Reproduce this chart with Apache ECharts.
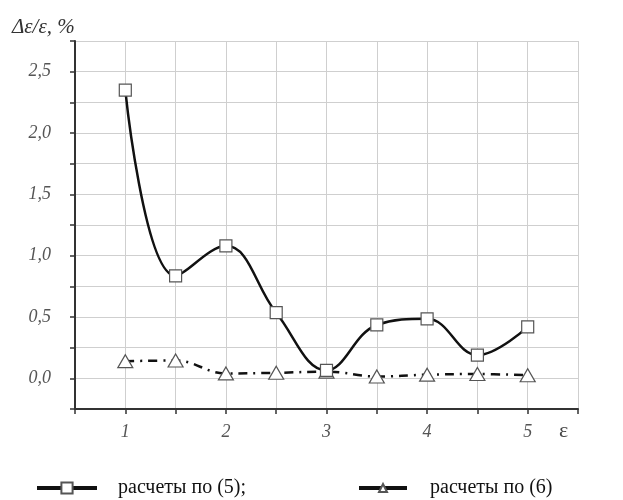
<!DOCTYPE html>
<html><head><meta charset="utf-8">
<script src="https://cdn.jsdelivr.net/npm/echarts@6/dist/echarts.min.js"></script>
<style>html,body{margin:0;padding:0;background:#fff}#c{width:623px;height:500px}</style>
</head><body><div id="c"></div>
<script>
const xValues = [1, 1.5, 2, 2.5, 3, 3.5, 4, 4.5, 5];
const series5 = [2.35, 0.835, 1.08, 0.535, 0.065, 0.435, 0.485, 0.19, 0.42];
const series6 = [0.14, 0.145, 0.04, 0.045, 0.055, 0.015, 0.03, 0.035, 0.025];
const seriesNames = ['расчеты по (5);', 'расчеты по (6)'];
const yTitle = 'Δε/ε, %';
const xTitle = 'ε';

const chart = echarts.init(document.getElementById('c'), null, {renderer: 'canvas'});
const pairs = (ys) => xValues.map((x, i) => [x, ys[i]]);
const labelFont = {fontFamily: 'Liberation Serif', fontStyle: 'italic', fontSize: 18, color: '#555'};
chart.setOption({
  animation: false,
  backgroundColor: '#fff',
  grid: {left: 75, right: 45, top: 41, bottom: 91},
  xAxis: {
    type: 'value', min: 0.5, max: 5.5, interval: 0.5,
    axisLine: {show: true, onZero: false, lineStyle: {color: '#333', width: 2}},
    axisTick: {show: true, inside: false, length: 5, lineStyle: {color: '#333', width: 1.5}},
    axisLabel: Object.assign({margin: 14, formatter: v => (Math.abs(v - Math.round(v)) < 1e-9 ? String(Math.round(v)) : '')}, labelFont),
    splitLine: {show: true, lineStyle: {color: '#cfcfcf', width: 1}}
  },
  yAxis: {
    type: 'value', min: -0.25, max: 2.75, interval: 0.25,
    axisLine: {show: true, onZero: false, lineStyle: {color: '#333', width: 2}},
    axisTick: {show: true, inside: false, length: 5, lineStyle: {color: '#333', width: 1.5}},
    axisLabel: Object.assign({margin: 24, formatter: v => {
      const r = Math.round(v * 2) / 2;
      if (Math.abs(v - r) > 1e-9 || v < 0) return '';
      return r.toFixed(1).replace('.', ',');
    }}, labelFont),
    splitLine: {show: true, lineStyle: {color: '#cfcfcf', width: 1}}
  },
  legend: [{
    left: 30, top: 473, itemWidth: 60, itemHeight: 14, itemGap: 10,
    data: [{name: seriesNames[0], lineStyle: {width: 4, type: 'solid'}}],
    textStyle: {fontFamily: 'Liberation Serif', fontSize: 20, color: '#111', padding: [0, 0, 0, 16]}
  }, {
    left: 352, top: 473, itemWidth: 48, itemHeight: 10, itemGap: 10,
    data: [{name: seriesNames[1], lineStyle: {width: 4, type: 'solid'}}],
    textStyle: {fontFamily: 'Liberation Serif', fontSize: 20, color: '#111', padding: [0, 0, 0, 18]}
  }],
  graphic: [
    {type: 'text', left: 12, top: 17, style: {text: yTitle, fontFamily: 'Liberation Serif', fontStyle: 'italic', fontSize: 21, fill: '#333'}},
    {type: 'text', left: 559, top: 420, style: {text: xTitle, fontFamily: 'Liberation Serif', fontSize: 22, fill: '#444'}}
  ],
  series: [{
    name: seriesNames[0], type: 'line', smooth: 0.4, data: pairs(series5),
    symbol: 'rect', symbolSize: 12,
    lineStyle: {color: '#111', width: 2.5},
    itemStyle: {color: '#fff', borderColor: '#555', borderWidth: 1.2},
    z: 3
  }, {
    name: seriesNames[1], type: 'line', smooth: 0.4, data: pairs(series6),
    symbol: 'triangle', symbolSize: [15, 13],
    lineStyle: {color: '#111', width: 2.5, type: [9, 6, 2, 6]},
    itemStyle: {color: '#fff', borderColor: '#555', borderWidth: 1.2},
    z: 2
  }]
});
</script></body></html>
